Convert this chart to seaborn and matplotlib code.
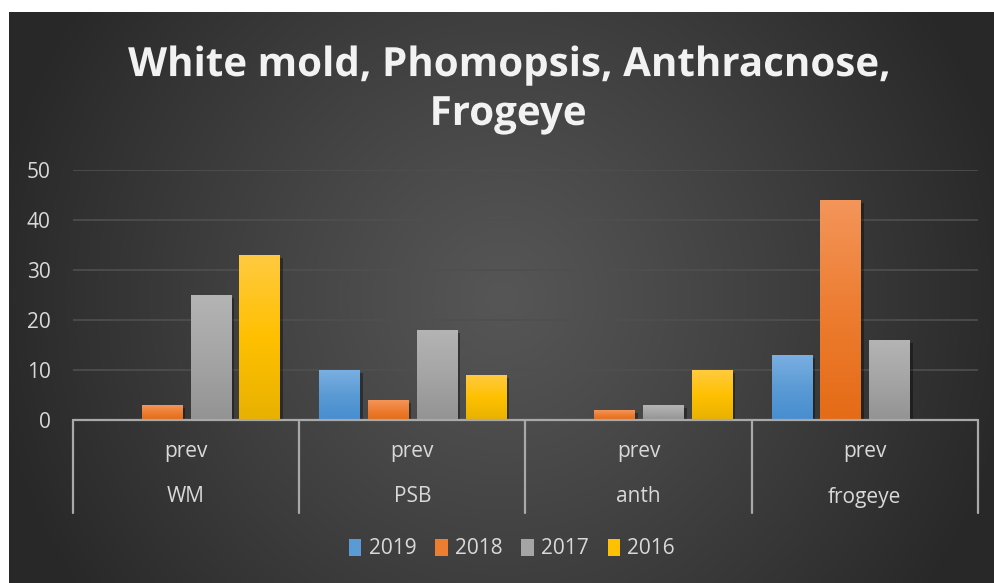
import numpy as np
import pandas as pd
import matplotlib
matplotlib.use("Agg")
import matplotlib.pyplot as plt
import matplotlib.patheffects as pe
from matplotlib.colors import LinearSegmentedColormap, to_rgb
from matplotlib.patches import Patch
import seaborn as sns

# ---- data ----
groups = ["WM", "PSB", "anth", "frogeye"]
sublabel = "prev"
years = ["2019", "2018", "2017", "2016"]
v2019 = [0, 10, 0, 13]
v2018 = [3, 4, 2, 44]
v2017 = [25, 18, 3, 16]
v2016 = [33, 9, 10, 0]
title = "White mold, Phomopsis, Anthracnose,\nFrogeye"
yticks = [0, 10, 20, 30, 40, 50]

series = {"2019": v2019, "2018": v2018, "2017": v2017, "2016": v2016}
df = pd.DataFrame([(g, y, series[y][i]) for y in years for i, g in enumerate(groups)],
                  columns=["group", "year", "value"])

pal = {"2019": "#5b9bd5", "2018": "#ed7d31", "2017": "#a5a5a5", "2016": "#ffc000"}
grad = {
    "2019": ("#7aafe2", "#478dd0"),
    "2018": ("#f4955a", "#e56b16"),
    "2017": ("#b4b4b4", "#939393"),
    "2016": ("#ffca40", "#e8b100"),
}

sns.set_theme(style="dark")
FONT = ["Open Sans", "DejaVu Sans"]
plt.rcParams["font.family"] = FONT
FS = 15

W, H = 995, 583
fig = plt.figure(figsize=(W / 100, H / 100), dpi=100, facecolor="white")

# background radial gradient (chart area, white margin at left/top)
x0, y0 = 9, 12
bg = fig.add_axes([x0 / W, 0, 1 - x0 / W, 1 - y0 / H])
bw, bh = W - x0, H - y0
yy, xx = np.mgrid[0:bh, 0:bw]
cx, cy = bw * 0.5, bh * 0.5
r = np.sqrt((xx - cx) ** 2 + (yy - cy) ** 2) / 520.0
r = np.clip(r, 0, 1)
c0, c1 = 86 / 255, 40 / 255
img = c0 + (c1 - c0) * r ** 1.1
bg.imshow(np.dstack([img, img, img]), aspect="auto", extent=[0, 1, 0, 1])
bg.set_axis_off()

# main axes
L, R, T, B = 73, 978, 170, 420
ax = fig.add_axes([L / W, (H - B) / H, (R - L) / W, (B - T) / H])
ax.set_facecolor("none")

sns.barplot(data=df, x="group", y="value", hue="year", order=groups, hue_order=years,
            palette=pal, width=0.864, gap=0.18, ax=ax, legend=False, zorder=3,
            saturation=1, edgecolor="none")

ax.set_xlim(-0.5, 3.5)
ax.set_ylim(0, 50)
ax.set_yticks(yticks)
ax.set_yticklabels([str(t) for t in yticks], fontsize=FS, color="#d9d9d9")
ax.tick_params(axis="y", length=0, pad=16)
ax.set_xticks([])
ax.set_xlabel("")
ax.set_ylabel("")
for s in ax.spines.values():
    s.set_visible(False)
ax.grid(False)
for t in yticks[1:]:
    ax.axhline(t, color="#4f4f4f", lw=1.2, zorder=1)

# gradient fill of bars
for i, y in enumerate(years):
    cont = ax.containers[i]
    top, bot = grad[y]
    cmap = LinearSegmentedColormap.from_list("g" + y, [to_rgb(bot), to_rgb(pal[y]), to_rgb(top)])
    for p in cont.patches:
        h = p.get_height()
        if h <= 0:
            continue
        p.set_path_effects([pe.SimplePatchShadow(offset=(2.5, -2), alpha=0.35, shadow_rgbFace="black"),
                            pe.Normal()])
        bx, bwid = p.get_x(), p.get_width()
        g = np.linspace(0, 1, 256).reshape(-1, 1)
        im = ax.imshow(g, cmap=cmap, aspect="auto", origin="lower",
                       extent=[bx, bx + bwid, 0, h], zorder=4, interpolation="bilinear")
        im.set_clip_path(p)
ax.set_xlim(-0.5, 3.5)
ax.set_ylim(0, 50)

# category axis (multi-level)
axis_col = "#a9a9a9"
depth = (513 - 420) / (B - T)
ax.plot([-0.5, 3.5], [0, 0], color=axis_col, lw=1.6, zorder=5, clip_on=False)
trans = ax.get_xaxis_transform()
for xs in [-0.5, 0.5, 1.5, 2.5, 3.5]:
    ax.plot([xs, xs], [0, -depth], transform=trans, color=axis_col, lw=1.6,
            clip_on=False, zorder=5)
for i, g in enumerate(groups):
    ax.text(i, -(452 - 420) / (B - T), sublabel, transform=trans, ha="center", va="center",
            fontsize=FS, color="#d9d9d9")
    ax.text(i, -(497 - 420) / (B - T), g, transform=trans, ha="center", va="center",
            fontsize=FS, color="#d9d9d9")

# title
tt = fig.text(508 / W, 1 - 90 / H, title, ha="center", va="center", fontsize=29,
              fontweight="bold", color="#f2f2f2", linespacing=1.33)
tt.set_path_effects([pe.SimpleLineShadow(offset=(1.5, -1.5), alpha=0.4), pe.Normal()])

# legend
handles = [Patch(facecolor=pal[y], edgecolor="none") for y in years]
leg = fig.legend(handles, years, loc="center", bbox_to_anchor=(512 / W, 1 - 549 / H), ncol=4,
                 frameon=False, fontsize=FS, handlelength=0.6, handleheight=0.85,
                 handletextpad=0.35, columnspacing=0.9, labelcolor="#d9d9d9")

fig.savefig("out.png", dpi=100, facecolor="white")
